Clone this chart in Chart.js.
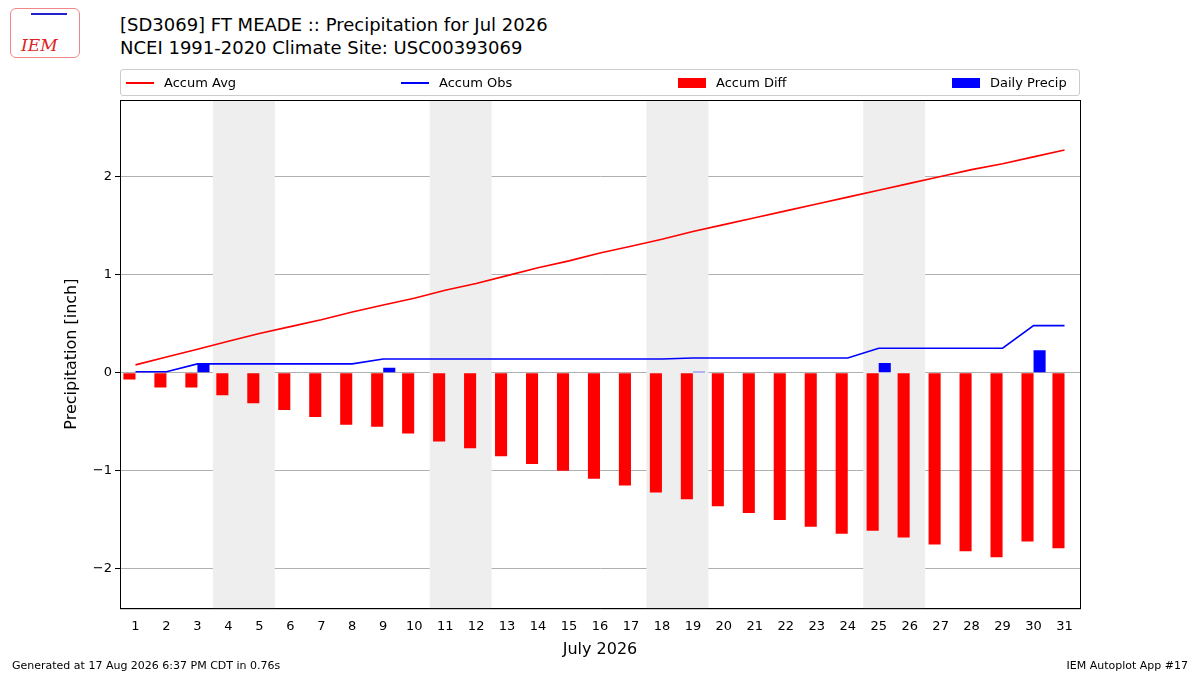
<!DOCTYPE html>
<html><head><meta charset="utf-8">
<script src="https://cdn.jsdelivr.net/npm/chart.js@4/dist/chart.umd.min.js"></script>
<style>
body{margin:0;width:1200px;height:675px;background:#fff;font-family:"DejaVu Sans",sans-serif;position:relative;overflow:hidden}
#t{position:absolute;left:120px;top:13px;font-size:18px;line-height:23px;color:#000}
#lg{position:absolute;left:120px;top:69px;width:958px;height:25px;border:1px solid #ccc;border-radius:3px;font-size:13px}
.it{position:absolute;top:5px;display:flex;align-items:center}
.ln{width:28px;height:2px;margin-right:10px}
.bx{width:28px;height:10px;margin-right:10px}
#f1{position:absolute;left:12px;top:659px;font-size:11px}
#f2{position:absolute;right:12px;top:659px;font-size:11px}
#logo{position:absolute;left:10px;top:8px;width:68px;height:48px;border:1px solid #e88;border-radius:6px;color:#d22;font-family:"DejaVu Serif",serif;font-style:italic;font-size:17px}
#c{position:absolute;left:0;top:0}
</style></head><body>
<div id="logo"><span style="position:absolute;left:10px;top:26px">IEM</span><span style="position:absolute;left:20px;top:4px;width:36px;height:2px;background:#22c"></span></div>
<div id="t">[SD3069] FT MEADE :: Precipitation for Jul 2026<br>NCEI 1991-2020 Climate Site: USC00393069</div>
<canvas id="c" width="1200" height="675"></canvas>
<div id="lg">
<div class="it" style="left:5px"><div class="ln" style="background:red"></div>Accum Avg</div>
<div class="it" style="left:280px"><div class="ln" style="background:blue"></div>Accum Obs</div>
<div class="it" style="left:557px"><div class="bx" style="background:red"></div>Accum Diff</div>
<div class="it" style="left:831px"><div class="bx" style="background:blue"></div>Daily Precip</div>
</div>
<div id="f1">Generated at 17 Aug 2026 6:37 PM CDT in 0.76s</div>
<div id="f2">IEM Autoplot App #17</div>
<script>
const days=Array.from({length:31},(_,i)=>String(i+1));
const accumAvg=[0.08,0.16,0.24,0.32,0.40,0.47,0.54,0.62,0.69,0.76,0.84,0.91,0.99,1.07,1.14,1.22,1.29,1.36,1.44,1.51,1.58,1.65,1.72,1.79,1.86,1.93,2.00,2.07,2.13,2.20,2.27];
const accumObs=[0.01,0.01,0.09,0.09,0.09,0.09,0.09,0.09,0.14,0.14,0.14,0.14,0.14,0.14,0.14,0.14,0.14,0.14,0.15,0.15,0.15,0.15,0.15,0.15,0.25,0.25,0.25,0.25,0.25,0.48,0.48];
const accumDiff=[-0.07,-0.15,-0.15,-0.23,-0.31,-0.38,-0.45,-0.53,-0.55,-0.62,-0.70,-0.77,-0.85,-0.93,-1.00,-1.08,-1.15,-1.22,-1.29,-1.36,-1.43,-1.50,-1.57,-1.64,-1.61,-1.68,-1.75,-1.82,-1.88,-1.72,-1.79];
const dailyPrecip=[0,0,0.09,0,0,0,0,0,0.05,0,0,0,0,0,0,0,0,0,0.01,0,0,0,0,0,0.10,0,0,0,0,0.23,0];
const weekends=[[3.5,5.5],[10.5,12.5],[17.5,19.5],[24.5,26.5]];
const shade={id:'shade',beforeDatasetsDraw(ch){const x=ch.scales.x,a=ch.chartArea,g=ch.ctx;g.save();g.fillStyle='#eeeeee';
 weekends.forEach(([s,e])=>{const p1=x.getPixelForValue(s-1),p2=x.getPixelForValue(e-1);g.fillRect(p1,a.top,p2-p1,a.bottom-a.top);});g.restore();}};
const frame={id:'frame',afterDraw(ch){const a=ch.chartArea,g=ch.ctx;g.save();g.strokeStyle='#000';g.lineWidth=1;g.strokeRect(a.left+.5,a.top+.5,a.right-a.left,a.bottom-a.top);g.restore();}};
new Chart(document.getElementById('c'),{
 data:{labels:days,datasets:[
  {type:'line',label:'Accum Avg',data:accumAvg,borderColor:'red',borderWidth:1.6,pointRadius:0,order:0},
  {type:'line',label:'Accum Obs',data:accumObs,borderColor:'blue',borderWidth:1.6,pointRadius:0,order:0},
  {type:'bar',label:'Accum Diff',data:accumDiff,backgroundColor:'red',categoryPercentage:0.78,barPercentage:1,order:1},
  {type:'bar',label:'Daily Precip',data:dailyPrecip,backgroundColor:'blue',categoryPercentage:0.78,barPercentage:1,order:1}]},
 options:{responsive:false,animation:false,
  plugins:{legend:{display:false},tooltip:{enabled:false}},
  scales:{
   x:{offset:true,grid:{display:false},border:{color:'#000'},ticks:{color:'#000',font:{size:13,family:'DejaVu Sans'},maxRotation:0,autoSkip:false},
      title:{display:true,text:'July 2026',color:'#000',font:{size:16,family:'DejaVu Sans'},padding:{top:2}}},
   y:{min:-2.4,max:2.78,afterFit(s){s.width=120;},grid:{color:'#b0b0b0',drawTicks:true,tickColor:'#000',tickLength:5},border:{color:'#000'},
      ticks:{color:'#000',font:{size:13,family:'DejaVu Sans'},stepSize:1,callback:v=>Number.isInteger(v)?String(v).replace('-','\u2212'):null},
      title:{display:true,text:'Precipitation [inch]',color:'#000',font:{size:16,family:'DejaVu Sans'},padding:{top:62,bottom:0}}}
  }},
 plugins:[shade,frame,{id:'pad',beforeInit(ch){ch.options.layout.padding={top:100,right:120,bottom:12,left:0};}}]
});
</script></body></html>
